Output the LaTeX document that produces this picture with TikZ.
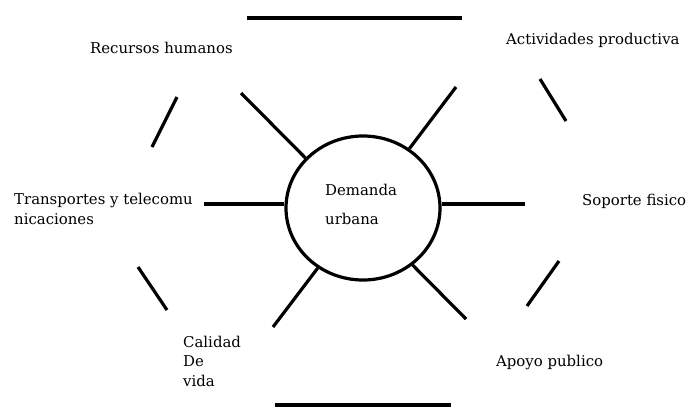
\documentclass[tikz,border=0pt]{standalone}
\usepackage{fontspec}
\setmainfont{DejaVu Serif}
\usetikzlibrary{shapes.geometric}
\begin{document}
\begin{tikzpicture}[x=1pt,y=-1pt,
  stroke/.style={line width=3.2pt},
  lbl/.style={anchor=base west,inner sep=0pt,font=\fontsize{14.9}{19.5}\selectfont,align=left}]
\useasboundingbox[fill=white] (0,0) rectangle (686,408);
% central node
\node[ellipse,draw,stroke,minimum width=154pt,minimum height=144pt,inner sep=0pt] (dem) at (363,208) {};
\node[lbl] (demtxt) at (325,195) {Demanda};
\node[lbl] (urbtxt) at (325,224) {urbana};
% outer ends of spokes
\coordinate (ul) at (241,93);
\coordinate (ur) at (456,87);
\coordinate (l) at (204,204);
\coordinate (r) at (525,204);
\coordinate (ll) at (273,327);
\coordinate (lr) at (466,319);
\draw[stroke] (dem.139) -- (ul);
\draw[stroke] (dem.52) -- (ur);
\draw[stroke] (l) -- (l -| dem.west);
\draw[stroke] (r) -- (r -| dem.east);
\draw[stroke] (dem.233) -- (ll);
\draw[stroke] (dem.311) -- (lr);
% separators
\coordinate (t1) at (247,18); \coordinate (t2) at (462,18);
\coordinate (b1) at (275,405); \coordinate (b2) at (451,405);
\draw[stroke] (t1) -- (t2);
\draw[stroke] (b1) -- (b2);
\coordinate (s1a) at (177,97); \coordinate (s1b) at (152,147);
\coordinate (s2a) at (540,79); \coordinate (s2b) at (566,121);
\coordinate (s3a) at (138,267); \coordinate (s3b) at (167,310);
\coordinate (s4a) at (559,261); \coordinate (s4b) at (527,306);
\draw[stroke] (s1a) -- (s1b);
\draw[stroke] (s2a) -- (s2b);
\draw[stroke] (s3a) -- (s3b);
\draw[stroke] (s4a) -- (s4b);
% labels
\node[lbl] (rh) at (90,53) {Recursos humanos};
\node[lbl] (ap) at (506,44) {Actividades productiva};
\node[lbl] (sf) at (582,205) {Soporte fisico};
\node[lbl] (tt) at (14,224) {Transportes y telecomu\\nicaciones};
\node[lbl] (cv) at (183,386) {Calidad\\De\\vida};
\node[lbl] (apo) at (496,366) {Apoyo publico};
\end{tikzpicture}
\end{document}
